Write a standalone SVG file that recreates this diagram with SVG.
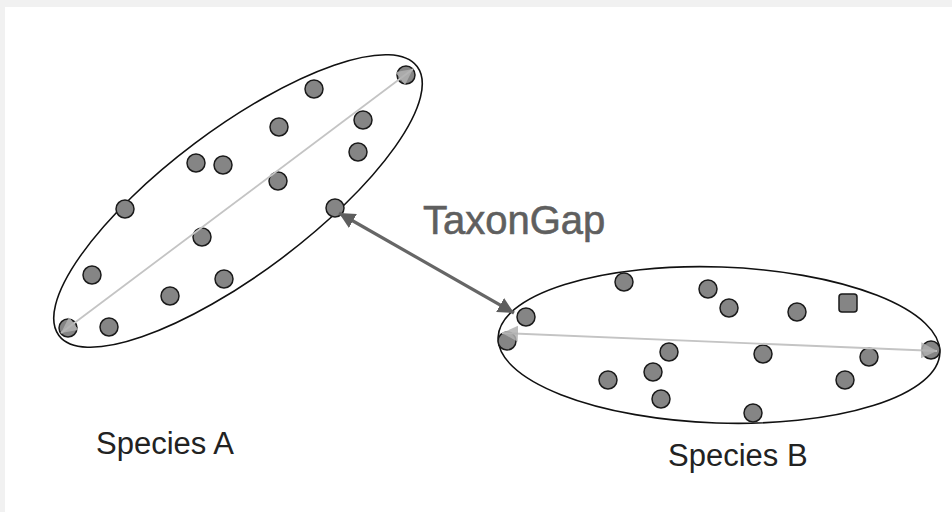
<svg xmlns="http://www.w3.org/2000/svg" width="952" height="512" viewBox="0 0 952 512">
<style>
  .hull{fill:none;stroke:#111;stroke-width:1.6}
  .dot{fill:#858585;stroke:#1a1a1a;stroke-width:1.5}
  .label{font-family:"Liberation Sans",Arial,sans-serif;fill:#222}
  .gap{font-family:"Liberation Sans",Arial,sans-serif;fill:#5f5f5f;stroke:#5f5f5f;stroke-width:0.6}
  .axis{stroke:#c4c4c4;stroke-width:1.8;fill:none}
  .link{stroke:#666;stroke-width:3.2;fill:none}
</style>
<defs>
  <marker id="lightHead" markerUnits="userSpaceOnUse" markerWidth="18" markerHeight="16" refX="16" refY="8" orient="auto-start-reverse">
    <path d="M0,0 L16,8 L0,16 Z" fill="#b0b0b0" fill-opacity="0.85"/>
  </marker>
  <marker id="darkHead" markerUnits="userSpaceOnUse" markerWidth="18" markerHeight="16" refX="16" refY="8" orient="auto-start-reverse">
    <path d="M0,0 L16,8 L0,16 Z" fill="#5e5e5e"/>
  </marker>
</defs>
<rect x="0" y="0" width="952" height="512" fill="#ffffff"/>
<rect x="0" y="0" width="952" height="7" fill="#f1f1f1"/>
<rect x="0" y="0" width="5" height="512" fill="#f1f1f1"/>

<g id="speciesA">
  <ellipse class="hull" cx="238" cy="201" rx="224" ry="72" transform="rotate(-36.9 238 201)"/>
  <circle class="dot" cx="406" cy="75" r="9"/>
  <circle class="dot" cx="314" cy="89" r="9"/>
  <circle class="dot" cx="279" cy="127" r="9"/>
  <circle class="dot" cx="363" cy="120" r="9"/>
  <circle class="dot" cx="358" cy="152" r="9"/>
  <circle class="dot" cx="196" cy="163" r="9"/>
  <circle class="dot" cx="223" cy="165" r="9"/>
  <circle class="dot" cx="278" cy="181" r="9"/>
  <circle class="dot" cx="125" cy="209" r="9"/>
  <circle class="dot" cx="335" cy="208" r="9"/>
  <circle class="dot" cx="202" cy="237" r="9"/>
  <circle class="dot" cx="92" cy="275" r="9"/>
  <circle class="dot" cx="224" cy="279" r="9"/>
  <circle class="dot" cx="170" cy="296" r="9"/>
  <circle class="dot" cx="109" cy="327" r="9"/>
  <circle class="dot" cx="68" cy="328" r="9"/>
  <text class="label" x="96" y="454" font-size="31">Species A</text>
</g>

<g id="speciesB">
  <ellipse class="hull" cx="719" cy="345" rx="221" ry="78" transform="rotate(2 719 345)"/>
  <circle class="dot" cx="624" cy="282" r="9"/>
  <circle class="dot" cx="708" cy="289" r="9"/>
  <circle class="dot" cx="729" cy="308" r="9"/>
  <circle class="dot" cx="797" cy="312" r="9"/>
  <rect class="dot" x="839" y="294" width="18" height="18" rx="3"/>
  <circle class="dot" cx="526" cy="317" r="9"/>
  <circle class="dot" cx="507" cy="341" r="9"/>
  <circle class="dot" cx="669" cy="352" r="9"/>
  <circle class="dot" cx="763" cy="354" r="9"/>
  <circle class="dot" cx="869" cy="357" r="9"/>
  <circle class="dot" cx="931" cy="350" r="9"/>
  <circle class="dot" cx="608" cy="380" r="9"/>
  <circle class="dot" cx="653" cy="372" r="9"/>
  <circle class="dot" cx="845" cy="380" r="9"/>
  <circle class="dot" cx="661" cy="399" r="9"/>
  <circle class="dot" cx="753" cy="413" r="9"/>
  <text class="label" x="668" y="466" font-size="31">Species B</text>
</g>

<g id="taxonGap">
  <text class="gap" x="423" y="234" font-size="40">TaxonGap</text>
</g>

<g id="connectors">
  <line class="axis" x1="61" y1="333" x2="413" y2="69" marker-start="url(#lightHead)" marker-end="url(#lightHead)"/>
  <line class="axis" x1="502" y1="333" x2="937" y2="351" marker-start="url(#lightHead)" marker-end="url(#lightHead)"/>
  <line class="link" x1="339" y1="213" x2="514" y2="313" marker-start="url(#darkHead)" marker-end="url(#darkHead)"/>
</g>
</svg>
